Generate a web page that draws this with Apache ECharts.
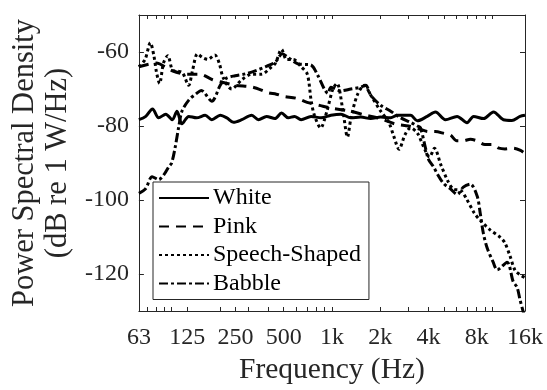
<!DOCTYPE html>
<html>
<head>
<meta charset="utf-8">
<script src="https://cdn.jsdelivr.net/npm/echarts@6/dist/echarts.min.js"></script>
<style>
html,body{margin:0;padding:0;background:#fff}
#main{width:547px;height:390px}
</style>
</head>
<body>
<div id="main"></div>
<script>
// octave tick marks (Hz) and their labels
var tickFreq = [62.5, 125, 250, 500, 1000, 2000, 4000, 8000, 16000];
var tickLabels = ['63', '125', '250', '500', '1k', '2k', '4k', '8k', '16k'];
var minorFreq = [70, 80, 90, 100, 200, 300, 400, 600, 700, 800, 900, 3000, 5000, 6000, 7000, 9000, 10000];
var dbTicks = [-120, -100, -80, -60];

var whiteFreq = [62.5,69,76,83,92,101,108,116,128,143,162,178,201,221,243,274,316,348,391,441,485,534,584,642,741,855,986,1137,1312,1514,1746,2014,2324,2558,3094,3405,3928,4423,5104,6031,6958,7646,8822,10176,11738,13238,14902,16000];
var whiteDb = [-78.3,-77.4,-75.4,-77.8,-76.8,-78.3,-76.0,-79.4,-77.4,-77.8,-77.1,-78.3,-77.1,-77.8,-79.0,-78.3,-77.1,-78.3,-77.4,-78.0,-76.5,-77.8,-77.4,-78.3,-77.4,-77.8,-77.1,-76.8,-77.8,-77.6,-78.0,-77.6,-77.8,-77.1,-77.1,-78.6,-77.4,-76.2,-78.3,-77.4,-79.1,-77.4,-78.0,-76.2,-78.3,-78.5,-77.4,-77.1];

var pinkFreq = [62.5,80,100,125,150,180,200,250,320,400,450,500,600,700,850,1000,1300,1600,2000,2500,3000,3500,4000,4400,5000,5500,6000,6600,7300,8000,9000,10000,11000,12000,13500,15000,16000];
var pinkDb = [-64,-63,-65,-66,-66,-67.5,-68,-69,-69.5,-71,-71.4,-72,-72.5,-73.6,-74.5,-75.2,-76,-77,-78,-79.5,-80,-80.8,-81.5,-81.5,-82,-82.5,-84,-84,-83.6,-84,-85,-85,-86,-86.2,-86,-86.6,-87.5];

var speechFreq = [62.5,68.3,73.7,77.5,80.5,84.1,89,94.6,101.6,108.8,117,127.7,135,145,156,168,186,198,210,237,274,316,364,408,444,485,521,573,642,702,741,776,850,930,1013,1075,1172,1250,1312,1437,1590,1746,2014,2260,2440,2620,2860,3094,3418,3720,4060,4360,4780,5300,5700,6390,6870,7720,8406,9650,11140,11950,12870,13860,14900,16000];
var speechDb = [-64,-62,-57.5,-61,-65.5,-68.5,-63,-61,-65,-65.2,-65.6,-69,-65,-60.5,-61.5,-62,-60.8,-63,-67,-70,-67.5,-66,-66,-64.5,-63,-59.3,-62,-62,-64,-66,-73,-77,-80.5,-76,-70,-68.5,-76,-83,-78,-71.7,-69,-71.7,-76,-79,-83,-86.3,-82.3,-80.5,-82,-85.5,-88.4,-86,-90.5,-95,-97,-97.5,-99.5,-103.5,-105.5,-108,-110,-111.5,-115,-119,-120.2,-121];

var babbleFreq = [62.5,68.7,75.6,83,90,96,100,105,111,116,128,143,153,178,201,217,249,288,332,384,444,490,534,613,738,818,896,943,986,1137,1312,1514,1625,1746,2014,2324,2682,3094,3418,3566,3833,4000,4297,4551,4959,5482,6056,6599,7292,8055,8406,8780,9294,10130,10734,12375,13490,14277,14902,16000];
var babbleDb = [-98.2,-97,-93.7,-94.5,-93,-91,-90,-86,-80,-76,-73,-71.2,-70.4,-73.3,-69,-67.2,-66.4,-65.9,-65.1,-64,-62.7,-60.5,-61.5,-63.2,-63.5,-66.4,-70,-71.2,-69.5,-70.5,-70,-69.5,-69,-71.7,-74.4,-76,-77.8,-79,-80,-80.5,-86,-89,-91,-93,-95.5,-97,-98.5,-96.5,-95.7,-99,-103.5,-108.8,-113,-116.8,-118.9,-116.8,-122,-123.6,-127,-132];

function pairs(fs, vs) {
	return fs.map(function (f, i) { return [f, vs[i]]; });
}

var font = 'Liberation Serif';
var axisColor = '#262626';
var allTicks = tickFreq.concat(minorFreq);

function xAx(pos, show) {
	return {
		type: 'log',
		logBase: 2,
		position: pos,
		min: 62.5,
		max: 16000,
		splitLine: { show: false },
		axisLine: { show: true, onZero: false, lineStyle: { color: axisColor, width: 1 } },
		axisTick: { show: true, inside: true, length: 4, customValues: allTicks, lineStyle: { color: axisColor } },
		axisLabel: {
			show: show,
			customValues: tickFreq,
			margin: 15,
			color: axisColor,
			fontFamily: font,
			fontSize: 24,
			formatter: function (v) {
				var i = tickFreq.indexOf(v);
				return i >= 0 ? tickLabels[i] : '';
			}
		},
		name: show ? 'Frequency (Hz)' : '',
		nameLocation: 'middle',
		nameGap: 44,
		nameTextStyle: { color: axisColor, fontFamily: font, fontSize: 29.5 }
	};
}

function yAx(pos, show) {
	return {
		type: 'value',
		position: pos,
		min: -130,
		max: -50,
		splitLine: { show: false },
		axisLine: { show: true, onZero: false, lineStyle: { color: axisColor, width: 1 } },
		axisTick: { show: true, inside: true, length: 5, customValues: dbTicks, lineStyle: { color: axisColor } },
		axisLabel: {
			show: show,
			customValues: dbTicks,
			margin: 10,
			color: axisColor,
			fontFamily: font,
			fontSize: 24
		},
		name: show ? 'Power Spectral Density\n(dB re 1 W/Hz)' : '',
		nameLocation: 'middle',
		nameRotate: 90,
		nameGap: 62,
		nameTextStyle: { color: axisColor, fontFamily: font, fontSize: 30.5, lineHeight: 33 }
	};
}

function lineSeries(name, data, type, width) {
	return {
		name: name,
		type: 'line',
		data: data,
		xAxisIndex: 0,
		yAxisIndex: 0,
		symbol: 'none',
		smooth: 0.3,
		clip: true,
		animation: false,
		lineStyle: { color: '#000', width: width, type: type, cap: 'butt' }
	};
}

var myChart = echarts.init(document.getElementById('main'), null, { renderer: 'canvas' });
var option = {
	animation: false,
	grid: { left: 137, right: 22, top: 15, bottom: 75, containLabel: false },
	xAxis: [xAx('bottom', true), xAx('top', false)],
	yAxis: [yAx('left', true), yAx('right', false)],
	legend: {
		left: 153,
		top: 182,
		orient: 'vertical',
		selectedMode: false,
		backgroundColor: '#fff',
		borderColor: axisColor,
		borderWidth: 1,
		borderRadius: 0,
		padding: [4, 8, 4, 5],
		itemGap: 4.5,
		itemWidth: 50,
		itemHeight: 14,
		itemStyle: { opacity: 0 },
		textStyle: { color: '#000', fontFamily: font, fontSize: 24, lineHeight: 24, padding: [0, 0, 0, -1] },
		data: ['White', 'Pink', 'Speech-Shaped', 'Babble']
	},
	series: [
		lineSeries('White', pairs(whiteFreq, whiteDb), 'solid', 3),
		lineSeries('Pink', pairs(pinkFreq, pinkDb), [10, 7], 3),
		lineSeries('Speech-Shaped', pairs(speechFreq, speechDb), [3, 3], 3),
		lineSeries('Babble', pairs(babbleFreq, babbleDb), [9, 3, 3, 3], 3)
	]
};
myChart.setOption(option);
</script>
</body>
</html>
